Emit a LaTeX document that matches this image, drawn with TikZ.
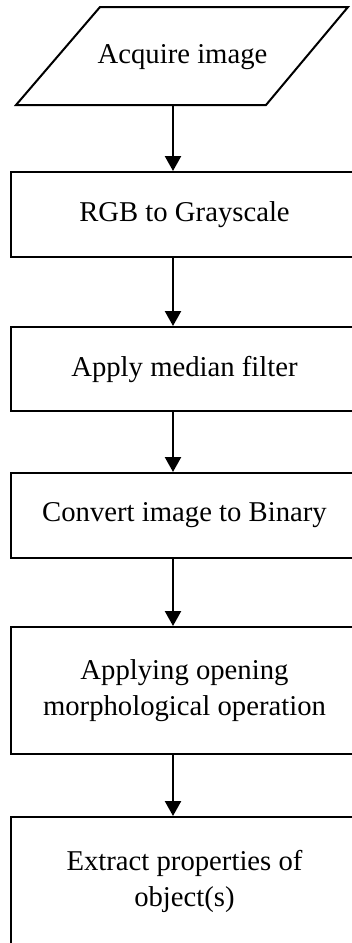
\documentclass[tikz,border=0pt]{standalone}
\usepackage{fontspec}
\setmainfont{Liberation Serif}
\usetikzlibrary{arrows.meta}

\begin{document}
\begin{tikzpicture}[x=0.5pt, y=-0.5pt,
    font=\fontsize{14.35}{18}\selectfont,
    stepbox/.style={draw, line width=1pt, inner sep=0pt, minimum width=173.5pt, align=center},
    flow/.style={line width=1.2pt, -{Triangle[length=7.5pt, width=8pt]}}]

    \def\ax{173}
    \def\mx{184.5}

    \useasboundingbox (0,0) rectangle (352,943);

    \path (100,7) coordinate (tl) --++ (248,0) coordinate (tr) --++ (-82,98) coordinate (br) --++ (-250,0) coordinate (bl);
    \path (\ax,0) coordinate (spine);

    \draw[line width=1pt] (tl) -- (tr) -- (br) -- (bl) -- cycle;
    \node (acq) at (182.5,57) {Acquire image};

    \node [stepbox, minimum height=42.5pt] (gray) at (\mx,214.5) {RGB to Grayscale};
    \node [stepbox, minimum height=42pt] (median) at (\mx,369) {Apply median filter};
    \node [stepbox, minimum height=42.5pt] (binary) at (\mx,515.5) {Convert image to Binary};
    \node [stepbox, minimum height=63.5pt] (opening) at (\mx,690.5) {Applying opening\\morphological operation};
    \node [stepbox, minimum height=64pt] (props) at (\mx,881) {Extract properties of\\object(s)};

    \draw[flow] (bl -| spine) -- (gray.north -| spine);
    \draw[flow] (gray.south -| spine) -- (median.north -| spine);
    \draw[flow] (median.south -| spine) -- (binary.north -| spine);
    \draw[flow] (binary.south -| spine) -- (opening.north -| spine);
    \draw[flow] (opening.south -| spine) -- (props.north -| spine);

\end{tikzpicture}
\end{document}
